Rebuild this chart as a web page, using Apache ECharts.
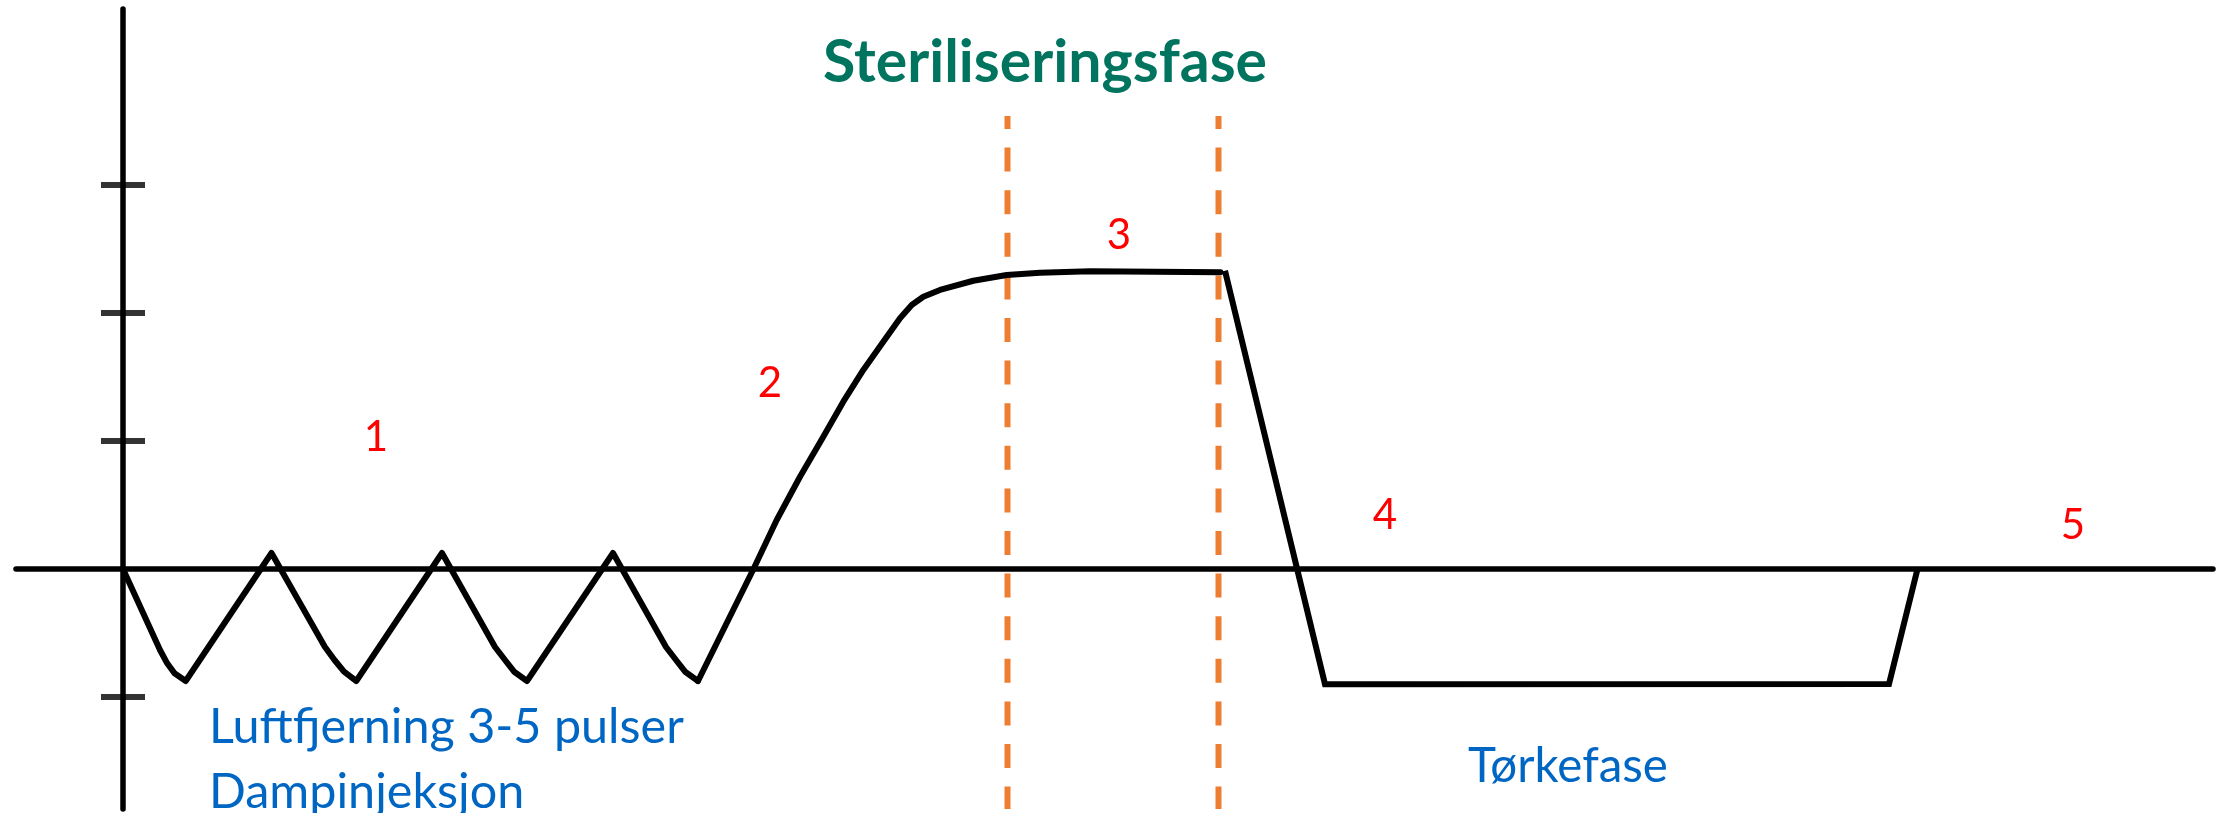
<!DOCTYPE html>
<html>
<head>
<meta charset="utf-8">
<script src="https://cdn.jsdelivr.net/npm/echarts@6/dist/echarts.min.js"></script>
<style>
  html, body { margin: 0; padding: 0; background: #fff; }
  #chart { width: 2224px; height: 813px; }
</style>
</head>
<body>
<div id="chart"></div>
<script>
// ---- Data (x: time units, y: pressure units; y ticks at -1,1,2,3) ----
// Phase 1: pulsing air removal
const curvePulses = [
  [0.00, 0.000], [0.74, -0.633], [0.884, -0.737], [1.03, -0.815], [1.254, -0.875],
  [2.97, 0.125], [4.036, -0.607], [4.23, -0.711], [4.42, -0.802], [4.666, -0.875],
  [6.38, 0.125], [7.44, -0.609], [7.64, -0.711], [7.83, -0.805], [8.08, -0.875],
  [9.80, 0.125], [10.86, -0.609], [11.06, -0.711], [11.25, -0.805], [11.50, -0.875]
];
// Phase 2-3: heat-up and sterilisation plateau
const curveHeatUp = [
  [11.50, -0.875], [12.61, 0.000], [13.074, 0.383], [13.54, 0.721], [14.006, 1.034],
  [14.406, 1.307], [14.806, 1.555], [15.206, 1.776], [15.54, 1.959], [15.774, 2.063],
  [16.006, 2.127], [16.34, 2.18], [17.006, 2.252], [17.674, 2.297], [18.34, 2.315],
  [19.34, 2.327], [21.95, 2.318]
];
// Phase 4: drop, vacuum drying, return to atmosphere
const curveDrying = [
  [22.04, 2.330], [24.04, -0.901], [35.32, -0.898], [35.89, 0.000]
];
const yTickValues = [-1, 1, 2, 3];
const sterilStartX = 17.69;
const sterilEndX = 21.91;
const sterilLineTop = 3.539;
const sterilLineBottom = -1.875;
const xRange = [-2.14, 41.8];
const yRange = [-1.875, 4.375];

const titleText = 'Steriliseringsfase';
const phaseNumbers = ['1', '2', '3', '4', '5'];
const airRemovalText = ['Luftfjerning 3-5 pulser', 'Dampinjeksjon'];
const dryingText = 'Tørkefase';

// ---- Chart ----
const chart = echarts.init(document.getElementById('chart'), null, { renderer: 'canvas' });
const FONT = 'Lato, "Open Sans", sans-serif';
const RED = '#FF0000';
const BLUE = '#0066C4';

const numberPos = [[376, 437], [770, 383], [1119, 235], [1385, 515], [2073, 525]];

const graphics = [
  { type: 'text', x: 1045, y: 63,
    style: { text: titleText, fill: '#00745E', font: 'bold 59px ' + FONT, textAlign: 'center', textVerticalAlign: 'middle' } },
  { type: 'text', x: 209, y: 727,
    style: { text: airRemovalText[0], fill: BLUE, font: '48.5px ' + FONT, textAlign: 'left', textVerticalAlign: 'middle' } },
  { type: 'text', x: 209, y: 792,
    style: { text: airRemovalText[1], fill: BLUE, font: '48.5px ' + FONT, textAlign: 'left', textVerticalAlign: 'middle' } },
  { type: 'text', x: 1568, y: 767,
    style: { text: dryingText, fill: BLUE, font: '47.5px ' + FONT, textAlign: 'center', textVerticalAlign: 'middle' } }
];
phaseNumbers.forEach((t, i) => {
  graphics.push({ type: 'text', x: numberPos[i][0], y: numberPos[i][1],
    style: { text: t, fill: RED, font: '42px ' + FONT, textAlign: 'center', textVerticalAlign: 'middle' } });
});

const blackLine = { color: '#000', width: 6, join: 'round', cap: 'round' };

const option = {
  animation: false,
  backgroundColor: '#ffffff',
  grid: { left: 16, right: 11, top: 9, bottom: 4, containLabel: false },
  xAxis: {
    type: 'value', min: xRange[0], max: xRange[1],
    axisLine: { show: true, onZero: true, lineStyle: { color: '#000', width: 5.5 } },
    axisTick: { show: false }, axisLabel: { show: false }, splitLine: { show: false }
  },
  yAxis: {
    type: 'value', min: yRange[0], max: yRange[1],
    axisLine: { show: true, onZero: true, lineStyle: { color: '#000', width: 5.5 } },
    axisTick: { show: false }, axisLabel: { show: false }, splitLine: { show: false }
  },
  series: [
    {
      name: 'Sterilisering start', type: 'line', z: 1, symbol: 'none', silent: true,
      data: [[sterilStartX, sterilLineTop], [sterilStartX, sterilLineBottom]],
      lineStyle: { color: '#ED7D31', width: 6, type: [24, 18.6], dashOffset: 11 }
    },
    {
      name: 'Sterilisering slutt', type: 'line', z: 1, symbol: 'none', silent: true,
      data: [[sterilEndX, sterilLineTop], [sterilEndX, sterilLineBottom]],
      lineStyle: { color: '#ED7D31', width: 6, type: [24, 18.6], dashOffset: 11 }
    },
    {
      name: 'Pulser', type: 'line', z: 5, symbol: 'none', smooth: false,
      data: curvePulses, lineStyle: blackLine
    },
    {
      name: 'Oppvarming', type: 'line', z: 5, symbol: 'none', smooth: false,
      data: curveHeatUp, lineStyle: blackLine
    },
    {
      name: 'Tørk', type: 'line', z: 5, symbol: 'none', smooth: false,
      data: curveDrying,
      lineStyle: { color: '#000', width: 6, join: 'miter', cap: 'butt' }
    },
    {
      name: 'Ticks', type: 'scatter', z: 4, silent: true,
      symbol: 'rect', symbolSize: [44, 6],
      itemStyle: { color: '#000' },
      data: yTickValues.map(v => [0, v])
    }
  ],
  graphic: graphics
};
chart.setOption(option);
</script>
</body>
</html>
